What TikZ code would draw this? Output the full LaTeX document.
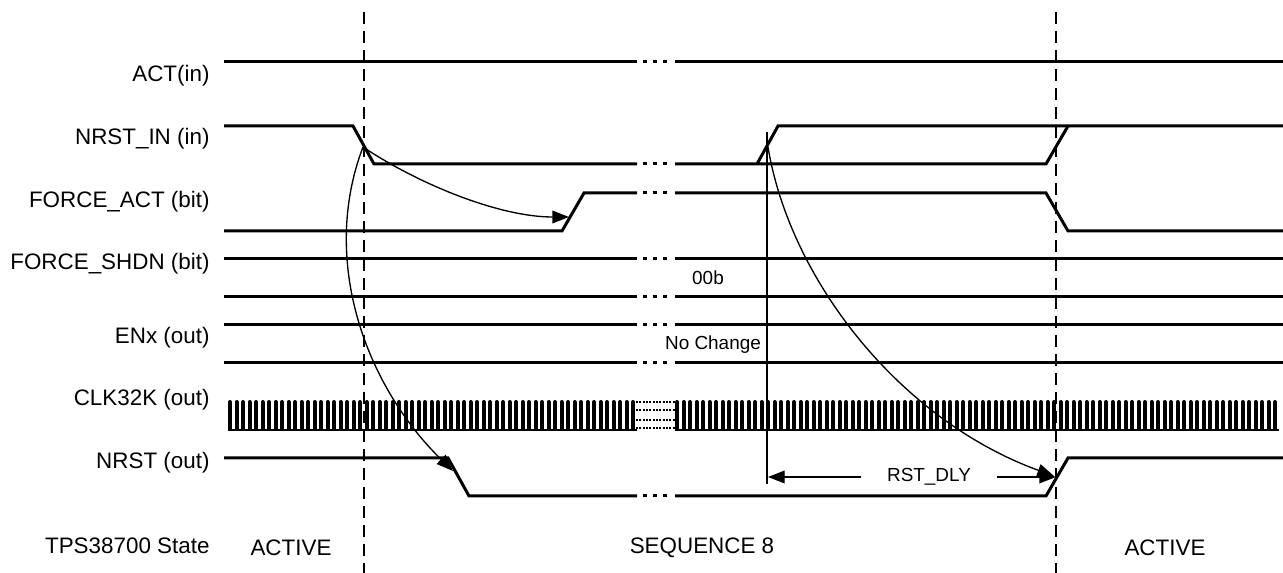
\documentclass[tikz,border=0pt]{standalone}
\usepackage{fontspec}
\setmainfont{Liberation Sans}
\usetikzlibrary{arrows.meta}

\tikzset{every picture/.style={line width=0.75pt}}
\tikzset{
  sig/.style={line width=2.25pt},
  brk/.style={line width=2.25pt, dash pattern=on 3pt off 4.5pt},
  clkbar/.style={line width=3pt, line cap=round},
  clkdot/.style={line width=1.6pt, dash pattern=on 1.4pt off 1.1pt},
  guide/.style={line width=1pt, dash pattern=on 9pt off 5.25pt},
  cause/.style={line width=1pt, -{Triangle[length=12.5pt,width=9.5pt]}},
  lbl/.style={anchor=east, inner sep=0pt, font=\fontsize{16.8}{19}\selectfont},
  state/.style={inner sep=0pt, font=\fontsize{16.8}{19}\selectfont},
  note/.style={inner sep=0pt, font=\fontsize{14.2}{16}\selectfont},
}

\begin{document}
\begin{tikzpicture}[x=0.75pt,y=0.75pt,yscale=-1,xscale=1]
\useasboundingbox (0,0) rectangle (1283,573);

%Signal names
\node[lbl] (lact) at (210,76) {ACT(in)};
\node[lbl] (lnrstin) at (210,139) {NRST\_IN (in)};
\node[lbl] (lfact) at (210,202) {FORCE\_ACT (bit)};
\node[lbl] (lfshdn) at (210,264) {FORCE\_SHDN (bit)};
\node[lbl] (lenx) at (210,338) {ENx (out)};
\node[lbl] (lclk) at (210,400) {CLK32K (out)};
\node[lbl] (lnrst) at (210,463) {NRST (out)};
\node[lbl] (lstate) at (210,546) {TPS38700 State};

%Straight Lines: ACT(in)
\draw[sig] (224,62) -- (637,62) (675,62) -- (1283,62);
\draw[brk] (643,62) -- (668,62);
%Straight Lines: NRST_IN (in)
\draw[sig] (224,126) -- (353,126) -- (374,164) -- (637,164);
\draw[sig] (675,164) -- (1046,164) -- (1068,126);
\draw[sig] (757,164) -- (778,126) -- (1283,126);
\draw[brk] (643,164) -- (668,164);
%Straight Lines: FORCE_ACT (bit)
\draw[sig] (224,231) -- (562,231) -- (584,193) -- (637,193);
\draw[sig] (675,193) -- (1046,193) -- (1068,231) -- (1283,231);
\draw[brk] (643,193) -- (668,193);
%Straight Lines: FORCE_SHDN (bit), ENx (out)
\foreach \y in {259,297,325,363}{
  \draw[sig] (224,\y) -- (637,\y) (675,\y) -- (1283,\y);
  \draw[brk] (643,\y) -- (668,\y);
}
%Straight Lines: NRST (out)
\draw[sig] (224,458) -- (448,458) -- (469,496) -- (637,496);
\draw[sig] (675,496) -- (1046,496) -- (1068,458) -- (1283,458);
\draw[brk] (643,496) -- (668,496);

%Shape: CLK32K (out)
\foreach \i in {0,...,62}{
  \draw[clkbar] ({230+\i*6.5},402) -- ({230+\i*6.5},429);
}
\foreach \i in {0,...,92}{
  \draw[clkbar] ({677+\i*6.5},402) -- ({677+\i*6.5},429);
}
\draw[line width=1.5pt] (228,430) -- (637,430) (675,430) -- (1279,430);
\foreach \y in {402,410,420,428}{
  \draw[clkdot] (636,\y) -- (676,\y);
}

%Dashed Lines
\draw[guide] (364,12) -- (364,573);
\draw[guide] (1056,12) -- (1056,573);
%Straight Lines: delay reference
\draw[line width=1pt] (767,132) -- (767,484);

% Text Node
\node[note] (sdb) at (708,278) {00b};
% Text Node
\node[note] (nochg) at (713,345) {No Change};
% Text Node
\node[note, inner xsep=19pt] (dly) at (929,477) {RST\_DLY};
% Text Node
\node[state] (s1) at (291,548) {ACTIVE};
\node[state] (s2) at (702,548) {SEQUENCE 8};
\node[state] (s3) at (1165,548) {ACTIVE};

%Curve Lines
\coordinate (ninfall) at (363,147);
\coordinate (farise) at (569,217);
\coordinate (nrfall) at (453,471);
\coordinate (ninrise) at (768,147);
\coordinate (nrrise) at (1054,476);
\coordinate (dlyl) at (768,477);
\coordinate (dlyr) at (1056,477);
\draw[cause] (ninfall) .. controls (420,185) and (500,217) .. (farise);
\draw[cause] (ninfall) .. controls (320,260) and (365,385) .. (nrfall);
\draw[cause] (ninrise) .. controls (790,280) and (900,420) .. (nrrise);
\draw[cause] (dly.west) -- (dlyl);
\draw[cause] (dly.east) -- (dlyr);

\end{tikzpicture}
\end{document}
